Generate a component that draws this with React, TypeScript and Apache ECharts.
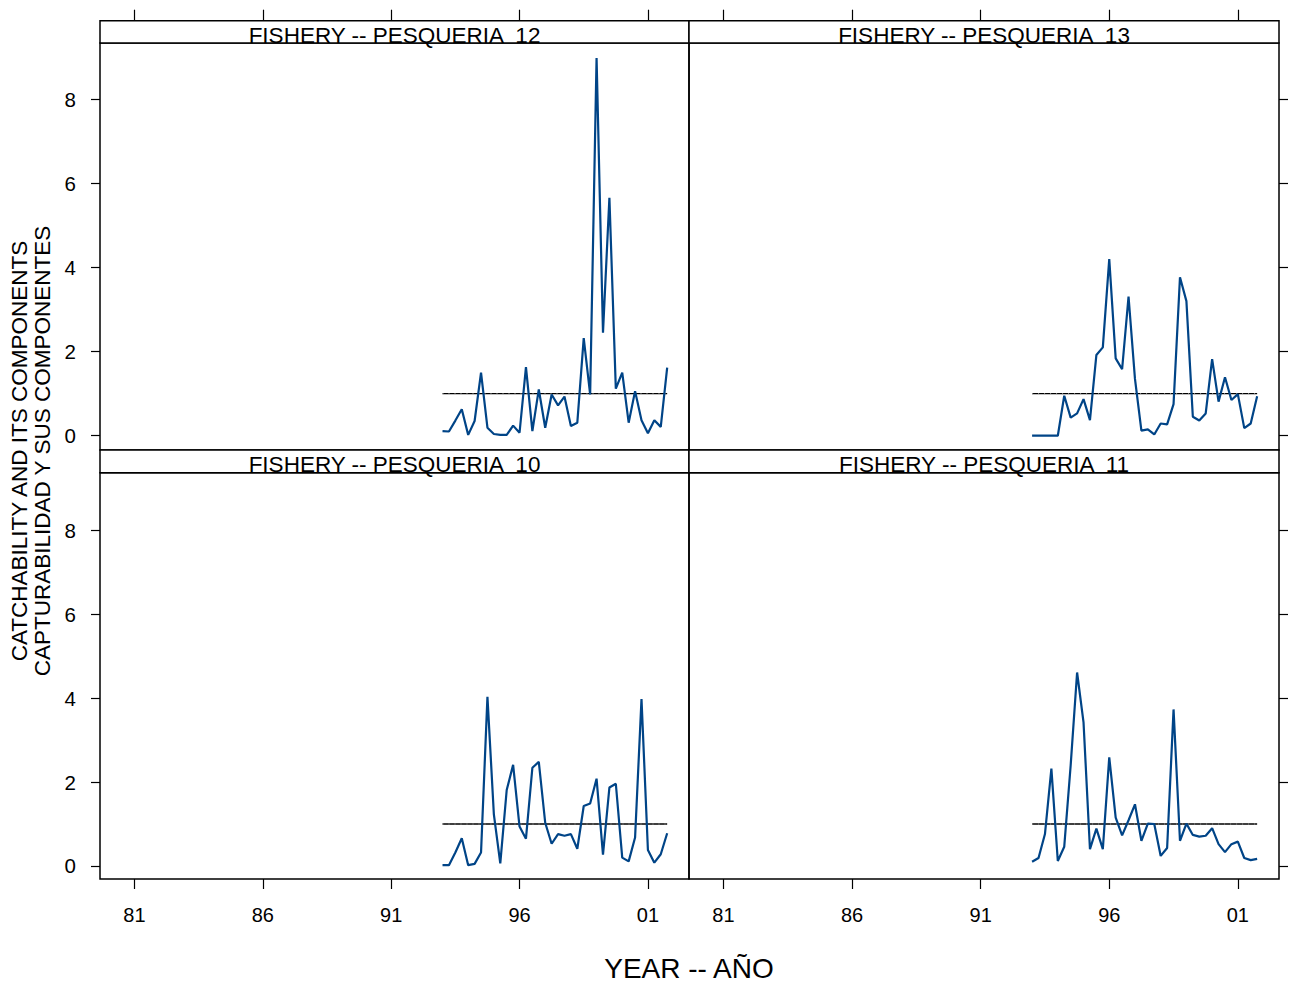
import React, { useEffect, useRef } from "react";
import * as echarts from "echarts";

// Quarterly time points (two-digit years, 101 = 2001)
const years = [
  93, 93.25, 93.5, 93.75, 94, 94.25, 94.5, 94.75, 95, 95.25, 95.5, 95.75,
  96, 96.25, 96.5, 96.75, 97, 97.25, 97.5, 97.75, 98, 98.25, 98.5, 98.75,
  99, 99.25, 99.5, 99.75, 100, 100.25, 100.5, 100.75, 101, 101.25, 101.5, 101.75,
];

const fishery12 = [
  0.11, 0.1, 0.36, 0.63, 0.02, 0.35, 1.5, 0.19, 0.04, 0.02, 0.02, 0.24,
  0.07, 1.63, 0.11, 1.1, 0.19, 0.98, 0.72, 0.93, 0.23, 0.31, 2.32, 0.98,
  8.98, 2.45, 5.66, 1.12, 1.5, 0.31, 1.06, 0.37, 0.06, 0.37, 0.21, 1.62,
];
const fishery13 = [
  0.0, 0.0, 0.0, 0.0, 0.0, 0.95, 0.43, 0.53, 0.87, 0.37, 1.92, 2.1,
  4.2, 1.84, 1.58, 3.31, 1.35, 0.12, 0.15, 0.03, 0.29, 0.27, 0.75, 3.77,
  3.2, 0.45, 0.36, 0.53, 1.82, 0.81, 1.39, 0.85, 0.99, 0.18, 0.29, 0.94,
];
const fishery10 = [
  0.02, 0.02, 0.32, 0.66, 0.02, 0.05, 0.32, 4.03, 1.23, 0.06, 1.81, 2.41,
  0.94, 0.65, 2.34, 2.48, 1.03, 0.53, 0.76, 0.72, 0.76, 0.41, 1.43, 1.49,
  2.08, 0.27, 1.87, 1.96, 0.2, 0.11, 0.68, 3.98, 0.38, 0.08, 0.28, 0.78,
];
const fishery11 = [
  0.1, 0.19, 0.76, 2.32, 0.12, 0.46, 2.4, 4.61, 3.42, 0.4, 0.89, 0.4,
  2.59, 1.15, 0.73, 1.09, 1.47, 0.6, 1.01, 1.0, 0.24, 0.43, 3.73, 0.6,
  1.01, 0.74, 0.7, 0.72, 0.9, 0.52, 0.33, 0.52, 0.58, 0.19, 0.14, 0.17,
];

const refValue = 1;
const xTickValues = [81, 86, 91, 96, 101];
const yTickValues = [0, 2, 4, 6, 8];
const panelTitles = [
  "FISHERY -- PESQUERIA  12",
  "FISHERY -- PESQUERIA  13",
  "FISHERY -- PESQUERIA  10",
  "FISHERY -- PESQUERIA  11",
];
const xTitle = "YEAR -- AÑO";
const yTitle = "CATCHABILITY AND ITS COMPONENTS\nCAPTURABILIDAD Y SUS COMPONENTES";

const FONT = "'Liberation Sans', Arial, Helvetica, sans-serif";
const LINE_COLOR = "#004487";

export default function App() {
  const ref = useRef<HTMLDivElement>(null);

  useEffect(() => {
    if (!ref.current) return;
    const chart = echarts.init(ref.current, undefined, { renderer: "svg" });

    const X_MIN = 79.66;
    const X_MAX = 102.6;

    const panels = [
      { title: panelTitles[0], data: fishery12, grid: { left: 100, top: 43, width: 589, height: 407 }, col: 0, row: 0, yr: [-0.34, 9.34] },
      { title: panelTitles[1], data: fishery13, grid: { left: 689, top: 43, width: 590, height: 407 }, col: 1, row: 0, yr: [-0.34, 9.34] },
      { title: panelTitles[2], data: fishery10, grid: { left: 100, top: 472.7, width: 589, height: 406.3 }, col: 0, row: 1, yr: [-0.31, 9.37] },
      { title: panelTitles[3], data: fishery11, grid: { left: 689, top: 472.7, width: 590, height: 406.3 }, col: 1, row: 1, yr: [-0.31, 9.37] },
    ];

    const grids = panels.map((p) => ({
      ...p.grid,
      show: true,
      borderColor: "#000",
      borderWidth: 1.5,
      backgroundColor: "transparent",
      containLabel: false,
    }));

    const xAxes = panels.map((p, i) => ({
      type: "value",
      gridIndex: i,
      min: X_MIN,
      max: X_MAX,
      position: p.row === 0 ? "top" : "bottom",
      offset: p.row === 0 ? 22.3 : 0,
      axisLine: { show: false, onZero: false },
      splitLine: { show: false },
      axisTick: {
        show: true,
        inside: false,
        length: p.row === 0 ? 11 : 10,
        customValues: xTickValues,
        lineStyle: { color: "#000", width: 1.2 },
      },
      axisLabel: {
        show: p.row === 1,
        customValues: xTickValues,
        margin: 26,
        color: "#000",
        fontSize: 20,
        fontFamily: FONT,
        formatter: (v: number) => String(Math.round(v) % 100).padStart(2, "0"),
      },
    }));

    const yAxes = panels.map((p, i) => ({
      type: "value",
      gridIndex: i,
      min: p.yr[0],
      max: p.yr[1],
      position: p.col === 0 ? "left" : "right",
      axisLine: { show: false, onZero: false },
      splitLine: { show: false },
      axisTick: {
        show: true,
        inside: false,
        length: 9,
        customValues: yTickValues,
        lineStyle: { color: "#000", width: 1.2 },
      },
      axisLabel: {
        show: p.col === 0,
        customValues: yTickValues,
        margin: 24,
        color: "#000",
        fontSize: 20.5,
        fontFamily: FONT,
      },
    }));

    const series: any[] = [];
    panels.forEach((p, i) => {
      const refData = [
        [years[0], refValue],
        [years[years.length - 1], refValue],
      ];
      series.push({
        type: "line",
        xAxisIndex: i,
        yAxisIndex: i,
        data: refData,
        symbol: "none",
        silent: true,
        lineStyle: { color: "#000", width: 1.4 },
        z: 2,
      });
      series.push({
        type: "line",
        xAxisIndex: i,
        yAxisIndex: i,
        data: refData,
        symbol: "none",
        silent: true,
        lineStyle: { color: "#9a9a9a", width: 1, type: [1, 5] },
        z: 3,
      });
      series.push({
        type: "line",
        xAxisIndex: i,
        yAxisIndex: i,
        data: years.map((y, k) => [y, p.data[k]]),
        symbol: "none",
        lineStyle: { color: LINE_COLOR, width: 2.2 },
        z: 4,
      });
    });

    const graphics: any[] = [];
    panels.forEach((p) => {
      const sy = p.row === 0 ? 20.7 : 450;
      const sh = p.row === 0 ? 22.3 : 22.7;
      graphics.push({
        type: "rect",
        shape: { x: p.grid.left, y: sy, width: p.grid.width, height: sh },
        style: { fill: "#fff", stroke: "#000", lineWidth: 1.5 },
        z: 10,
      });
      graphics.push({
        type: "text",
        x: p.grid.left + p.grid.width / 2,
        y: sy + sh - 8,
        style: {
          text: p.title,
          fill: "#000",
          fontSize: 22.5,
          fontFamily: FONT,
          align: "center",
          verticalAlign: "middle",
        },
        z: 11,
      });
    });
    graphics.push({
      type: "text",
      x: 689,
      y: 968,
      style: {
        text: xTitle,
        fill: "#000",
        fontSize: 28,
        fontFamily: FONT,
        align: "center",
        verticalAlign: "middle",
      },
    });
    graphics.push({
      type: "text",
      x: 31,
      y: 451,
      rotation: Math.PI / 2,
      style: {
        text: yTitle,
        fill: "#000",
        fontSize: 22.5,
        lineHeight: 23.5,
        fontFamily: FONT,
        align: "center",
        verticalAlign: "middle",
      },
    });

    chart.setOption({
      animation: false,
      backgroundColor: "#fff",
      grid: grids,
      xAxis: xAxes,
      yAxis: yAxes,
      series,
      graphic: graphics,
    });

    return () => chart.dispose();
  }, []);

  return (
    <div
      ref={ref}
      style={{ position: "absolute", left: 0, top: 0, width: 1289, height: 983 }}
    />
  );
}
